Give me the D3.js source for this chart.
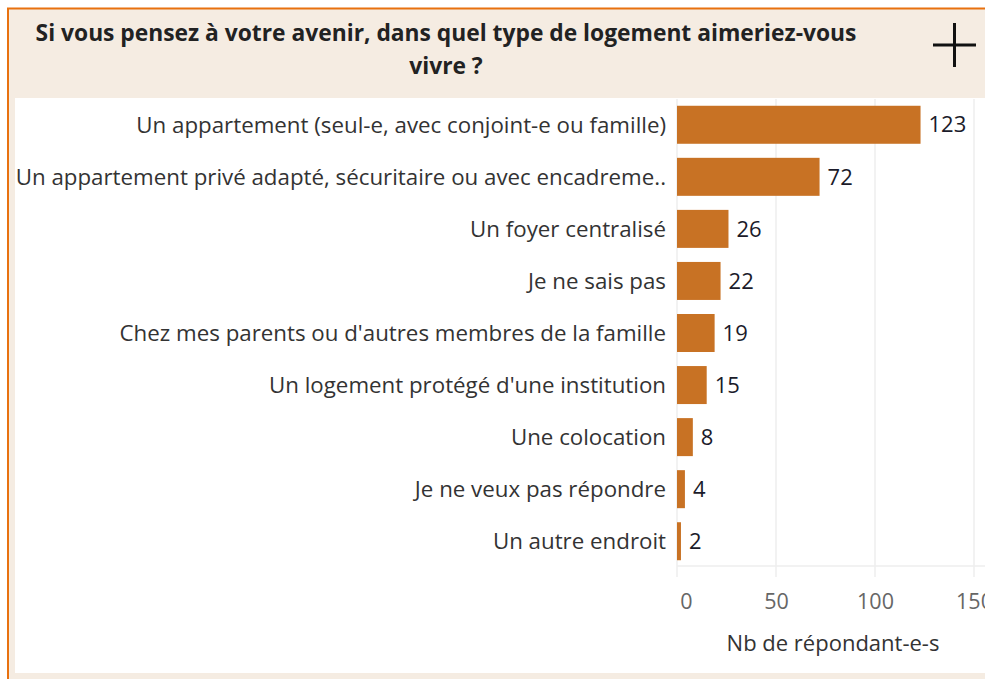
<!DOCTYPE html>
<html>
<head>
<meta charset="utf-8">
<script src="https://cdn.jsdelivr.net/npm/d3@7"></script>
<style>
  body { margin: 0; background: #fff; }
  svg { display: block; font-family: "Open Sans", sans-serif; }
</style>
</head>
<body>
<svg id="chart" width="985" height="679"></svg>
<script>
// données du graphique
const categories = [
  "Un appartement (seul-e, avec conjoint-e ou famille)",
  "Un appartement privé adapté, sécuritaire ou avec encadreme..",
  "Un foyer centralisé",
  "Je ne sais pas",
  "Chez mes parents ou d'autres membres de la famille",
  "Un logement protégé d'une institution",
  "Une colocation",
  "Je ne veux pas répondre",
  "Un autre endroit"
];
const values = [123, 72, 26, 22, 19, 15, 8, 4, 2];
const ticks = [0, 50, 100, 150];
const titleLines = ["Si vous pensez à votre avenir, dans quel type de logement aimeriez-vous", "vivre ?"];
const axisTitle = "Nb de répondant-e-s";

const svg = d3.select("#chart");
const barColor = "#c87224";
const fontFam = "'Open Sans', sans-serif";

// cadre et en-tête
svg.append("rect").attr("x", 0).attr("y", 0).attr("width", 985).attr("height", 679).attr("fill", "#fff");
svg.append("rect").attr("x", 8).attr("y", 9).attr("width", 977).attr("height", 670).attr("fill", "#f5ece2");
svg.append("rect").attr("x", 15).attr("y", 98).attr("width", 970).attr("height", 575).attr("fill", "#fff");
svg.append("line").attr("x1", 7).attr("x2", 985).attr("y1", 8.5).attr("y2", 8.5)
   .attr("stroke", "#e8710f").attr("stroke-width", 2);
svg.append("line").attr("x1", 8).attr("x2", 8).attr("y1", 8).attr("y2", 679)
   .attr("stroke", "#e8710f").attr("stroke-width", 2);

// titre
svg.append("text")
   .attr("x", 446).attr("y", 41)
   .attr("text-anchor", "middle")
   .attr("font-size", 22.8).attr("font-weight", "bold").attr("fill", "#222")
   .selectAll("tspan").data(titleLines).enter().append("tspan")
   .attr("x", 446).attr("dy", (d, i) => i === 0 ? 0 : 33)
   .text(d => d);

// signe plus
svg.append("line").attr("x1", 933).attr("x2", 976).attr("y1", 45).attr("y2", 45).attr("stroke", "#111").attr("stroke-width", 3);
svg.append("line").attr("x1", 954.5).attr("x2", 954.5).attr("y1", 23).attr("y2", 67).attr("stroke", "#111").attr("stroke-width", 3);

// échelles
const x = d3.scaleLinear().domain([0, 150]).range([677, 974]);
const y = d3.scaleBand().domain(categories).range([99, 567]).paddingInner(0.27).paddingOuter(0.13);

// grille
svg.append("g").selectAll("line").data(ticks).enter().append("line")
   .attr("x1", d => x(d)).attr("x2", d => x(d))
   .attr("y1", 99).attr("y2", 577)
   .attr("stroke", "#eeeeee").attr("stroke-width", 1.5);
svg.append("line").attr("x1", 677).attr("x2", 985).attr("y1", 566).attr("y2", 566)
   .attr("stroke", "#eeeeee").attr("stroke-width", 1.5);

// barres
svg.append("g").selectAll("rect").data(values).enter().append("rect")
   .attr("x", x(0))
   .attr("y", (d, i) => y(categories[i]))
   .attr("width", d => x(d) - x(0))
   .attr("height", y.bandwidth())
   .attr("fill", barColor);

// valeurs
svg.append("g").selectAll("text").data(values).enter().append("text")
   .attr("x", d => x(d) + 8)
   .attr("y", (d, i) => y(categories[i]) + y.bandwidth() / 2)
   .attr("dy", "0.35em")
   .attr("font-size", 22).attr("fill", "#1b1b2a")
   .text(d => d);

// étiquettes des catégories
svg.append("g").selectAll("text").data(categories).enter().append("text")
   .attr("x", 666)
   .attr("y", d => y(d) + y.bandwidth() / 2)
   .attr("dy", "0.35em")
   .attr("text-anchor", "end")
   .attr("font-size", 22.3).attr("fill", "#333")
   .text(d => d);

// axe x
const xAxis = svg.append("g").attr("transform", "translate(0,585)")
   .call(d3.axisBottom(x).tickValues(ticks).tickSize(0).tickPadding(9));
xAxis.select(".domain").remove();
xAxis.selectAll("text").attr("font-size", 21.5).attr("fill", "#666").attr("font-family", fontFam)
   .attr("dx", (d, i) => i === 0 ? 9 : 0);

svg.append("text")
   .attr("x", 833).attr("y", 651)
   .attr("text-anchor", "middle")
   .attr("font-size", 22).attr("fill", "#333")
   .text(axisTitle);
</script>
</body>
</html>
